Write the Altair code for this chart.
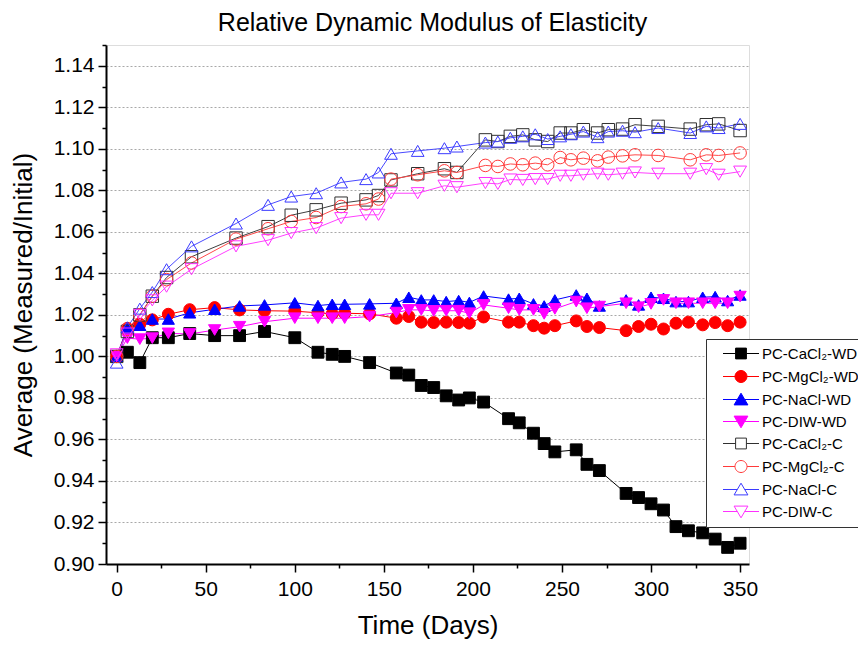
import altair as alt
import pandas as pd

# ---------------- data ----------------
names = ["PC-CaCl\u2082-WD", "PC-MgCl\u2082-WD", "PC-NaCl-WD", "PC-DIW-WD",
         "PC-CaCl\u2082-C", "PC-MgCl\u2082-C", "PC-NaCl-C", "PC-DIW-C"]

days_wd = [0, 6, 13, 20, 29, 41, 55, 69, 83, 100, 113, 121, 128, 142, 157, 164,
           171, 178, 185, 192, 198, 206, 220, 226, 234, 240, 246, 258, 264, 271,
           286, 293, 300, 307, 314, 321, 329, 336, 343, 350]

cacl2_wd = [1.000, 1.002, 0.997, 1.009, 1.009, 1.011, 1.010, 1.010, 1.012, 1.009,
            1.002, 1.001, 1.000, 0.997, 0.992, 0.991, 0.986, 0.985, 0.981, 0.979,
            0.980, 0.978, 0.970, 0.968, 0.963, 0.958, 0.954, 0.955, 0.948, 0.945,
            0.934, 0.932, 0.929, 0.926, 0.918, 0.916, 0.915, 0.912, 0.908, 0.910]

mgcl2_wd = [1.000, 1.0135, 1.0155, 1.0176, 1.0203, 1.0225, 1.0235, 1.0224, 1.022, 1.0218,
            1.021, 1.0205, 1.0208, 1.0205, 1.0184, 1.0192, 1.0165, 1.0163, 1.0165, 1.0163,
            1.016, 1.019, 1.0165, 1.0165, 1.0148, 1.0136, 1.0148, 1.0171, 1.0144, 1.0139,
            1.0124, 1.0144, 1.0155, 1.0132, 1.016, 1.0165, 1.0152, 1.0163, 1.0148, 1.0165]

nacl_wd = [1.000, 1.014, 1.015, 1.018, 1.018, 1.021, 1.0227, 1.0243, 1.0248, 1.0258,
           1.0245, 1.0251, 1.0251, 1.0253, 1.0256, 1.0285, 1.0272, 1.0272, 1.0264, 1.0269,
           1.026, 1.0291, 1.0276, 1.028, 1.0253, 1.0243, 1.0272, 1.0296, 1.028, 1.0243,
           1.0272, 1.0248, 1.0285, 1.028, 1.0264, 1.0264, 1.0285, 1.0288, 1.0269, 1.0296]

diw_wd = [1.000, 1.0088, 1.0083, 1.0088, 1.0111, 1.0108, 1.0127, 1.0143, 1.0167, 1.0184,
          1.0184, 1.0184, 1.0184, 1.0192, 1.0211, 1.0224, 1.0224, 1.0219, 1.022, 1.022,
          1.0208, 1.0248, 1.0232, 1.0224, 1.0224, 1.0205, 1.0229, 1.0264, 1.0232, 1.024,
          1.0256, 1.0237, 1.0253, 1.0272, 1.0256, 1.0256, 1.0256, 1.0256, 1.0256, 1.0288]

days_c = [0, 6, 13, 20, 28, 42, 67, 85, 98, 112, 126, 140, 147, 154, 169, 184, 191,
          207, 214, 221, 228, 235, 242, 249, 255, 262, 270, 276, 284, 291, 304, 322,
          331, 338, 350]

cacl2_c = [1.000, 1.012, 1.020, 1.029, 1.038, 1.048, 1.057, 1.0625, 1.068, 1.0706,
           1.0738, 1.0754, 1.0775, 1.085, 1.088, 1.0904, 1.0886, 1.1043, 1.1035, 1.106,
           1.1067, 1.1043, 1.1035, 1.1076, 1.1076, 1.1092, 1.1076, 1.1092, 1.1095, 1.1116,
           1.1108, 1.1095, 1.1116, 1.112, 1.1088]

mgcl2_c = [1.000, 1.013, 1.020, 1.029, 1.037, 1.045, 1.0565, 1.0615, 1.065, 1.0669,
           1.0722, 1.0735, 1.0758, 1.0854, 1.0875, 1.0894, 1.0886, 1.092, 1.0915, 1.0927,
           1.0923, 1.0931, 1.0923, 1.0958, 1.0947, 1.0955, 1.0942, 1.096, 1.0966, 1.0971,
           1.0968, 1.0947, 1.0971, 1.0968, 1.098]

nacl_c = [0.997, 1.014, 1.023, 1.031, 1.042, 1.053, 1.064, 1.073, 1.077, 1.0786,
          1.0838, 1.0854, 1.0886, 1.0976, 1.099, 1.1003, 1.1011, 1.103, 1.1035, 1.1053,
          1.106, 1.107, 1.1047, 1.106, 1.107, 1.1083, 1.1056, 1.1083, 1.1087, 1.108,
          1.110, 1.1076, 1.1108, 1.110, 1.112]

diw_c = [1.001, 1.011, 1.020, 1.027, 1.0336, 1.042, 1.053, 1.056, 1.0594, 1.0618,
         1.0666, 1.0682, 1.0682, 1.0786, 1.0786, 1.0822, 1.0815, 1.0835, 1.0831, 1.0852,
         1.085, 1.0854, 1.0854, 1.087, 1.087, 1.0875, 1.088, 1.0875, 1.088, 1.0886,
         1.088, 1.088, 1.0902, 1.0875, 1.089]

x_major = [0, 50, 100, 150, 200, 250, 300, 350]
x_minor = [25, 75, 125, 175, 225, 275, 325]
y_major = [0.90, 0.92, 0.94, 0.96, 0.98, 1.00, 1.02, 1.04, 1.06, 1.08, 1.10, 1.12, 1.14]
y_minor = [0.91, 0.93, 0.95, 0.97, 0.99, 1.01, 1.03, 1.05, 1.07, 1.09, 1.11, 1.13, 1.15]

# ---------------- styles ----------------
line_colors = ["#000000", "#ff0000", "#0000ff", "#ff00ff",
               "#404040", "#ff4a4a", "#4a4aff", "#ff40ff"]
stroke_colors = ["#000000", "#ff0000", "#0000ff", "#ff00ff",
                 "#303030", "#ff3a3a", "#3a3aff", "#ff30ff"]
fill_colors = ["#000000", "#ff0000", "#0000ff", "#ff00ff",
               "transparent", "transparent", "transparent", "transparent"]
shapes = ["square", "circle", "triangle-up", "triangle-down",
          "square", "circle", "triangle-up", "triangle-down"]
sizes = [140, 165, 200, 200, 125, 150, 190, 190]

# legend symbols: marker with a short line through it
p_sq = "M-3,0H-0.9M0.9,0H3M-0.9,-0.9H0.9V0.9H-0.9Z"
p_ci = "M-3,0H-1M1,0H3M1,0A1,1,0,1,1,-1,0A1,1,0,1,1,1,0Z"
p_tu = "M-3,0H-0.62M0.62,0H3M0,-1.05L1.15,0.9L-1.15,0.9Z"
p_td = "M-3,0H-0.62M0.62,0H3M0,1.05L1.15,-0.9L-1.15,-0.9Z"
legend_shapes = [p_sq, p_ci, p_tu, p_td, p_sq, p_ci, p_tu, p_td]

series_data = [
    (names[0], days_wd, cacl2_wd), (names[1], days_wd, mgcl2_wd),
    (names[2], days_wd, nacl_wd), (names[3], days_wd, diw_wd),
    (names[4], days_c, cacl2_c), (names[5], days_c, mgcl2_c),
    (names[6], days_c, nacl_c), (names[7], days_c, diw_c),
]
rows = []
for name, dd, vv in series_data:
    for d, v in zip(dd, vv):
        rows.append({"series": name, "day": d, "value": v})
df = pd.DataFrame(rows)

FONT = "Liberation Sans"
x_scale = alt.Scale(domain=[-6, 355], nice=False, zero=False)
y_scale = alt.Scale(domain=[0.90, 1.15], nice=False, zero=False)

base = alt.Chart(df)

lines = base.mark_line(strokeWidth=1).encode(
    x=alt.X("day:Q", scale=x_scale, axis=alt.Axis(
        values=x_major, orient="bottom", format="d", grid=False,
        tickSize=8, tickWidth=1.5, tickColor="black",
        domainColor="black", domainWidth=2,
        labelFontSize=21, labelColor="black", labelPadding=6, labelFont=FONT,
        title="Time (Days)", titleFontSize=26, titleFontWeight="normal",
        titleColor="black", titleFont=FONT, titleY=48)),
    y=alt.Y("value:Q", scale=y_scale, axis=alt.Axis(
        values=y_major, orient="left", format=".2f",
        grid=True, gridDash=[2, 2], gridColor="#a8a8a8", gridWidth=1,
        tickSize=8, tickWidth=1.5, tickColor="black",
        domainColor="black", domainWidth=2,
        labelFontSize=21, labelColor="black", labelPadding=4, labelFont=FONT,
        title="Average (Measured/Initial)", titleFontSize=26, titleFontWeight="normal",
        titleColor="black", titleFont=FONT, titleX=-70)),
    stroke=alt.Stroke("series:N", scale=alt.Scale(domain=names, range=line_colors), legend=None),
)

points = base.mark_point(opacity=1, strokeWidth=1).encode(
    x=alt.X("day:Q", scale=x_scale, axis=alt.Axis(
        values=x_minor, orient="bottom", labels=False, domain=False, grid=False,
        tickSize=4, tickWidth=1.5, tickColor="black", title=None)),
    y=alt.Y("value:Q", scale=y_scale, axis=alt.Axis(
        values=y_minor, orient="left", labels=False, domain=False, grid=False,
        tickSize=4, tickWidth=1.5, tickColor="black", title=None)),
    shape=alt.Shape("series:N", scale=alt.Scale(domain=names, range=shapes), legend=None),
    fill=alt.Fill("series:N", scale=alt.Scale(domain=names, range=fill_colors), legend=None),
    stroke=alt.Stroke("series:N", scale=alt.Scale(domain=names, range=stroke_colors), legend=None),
    size=alt.Size("series:N", scale=alt.Scale(domain=names, range=sizes), legend=None),
)

leg = alt.Legend(title=None, orient="none", legendX=600, legendY=294, padding=7,
                 strokeColor="#333333", fillColor="white",
                 symbolSize=144, symbolStrokeWidth=1, symbolOffset=20.5,
                 labelOffset=13.5, labelFontSize=15, labelFont=FONT, labelColor="black",
                 rowPadding=6, labelLimit=300)

legend_layer = base.transform_filter("datum.day < -1000").mark_point(
    opacity=1, strokeWidth=1, size=144).encode(
    x=alt.X("day:Q", scale=x_scale, axis=None),
    y=alt.Y("value:Q", scale=y_scale, axis=None),
    shape=alt.Shape("series:N", scale=alt.Scale(domain=names, range=legend_shapes), legend=leg),
    fill=alt.Fill("series:N", scale=alt.Scale(domain=names, range=fill_colors), legend=leg),
    stroke=alt.Stroke("series:N", scale=alt.Scale(domain=names, range=stroke_colors), legend=leg),
)

chart = alt.layer(lines, points, legend_layer).resolve_scale(
    stroke="independent", shape="independent", fill="independent", size="independent"
).resolve_axis(
    x="independent", y="independent"
).properties(
    width=643, height=519,
    title=alt.TitleParams("Relative Dynamic Modulus of Elasticity", fontSize=25,
                          fontWeight="normal", font=FONT, color="black",
                          anchor="middle", offset=8, dx=5),
    autosize=alt.AutoSizeParams(type="none"),
    padding={"left": 98, "top": 37, "right": 109, "bottom": 77},
).configure_view(stroke=None).configure(font=FONT)

chart.save("out.html", embed_options={"renderer": "svg", "actions": False})
